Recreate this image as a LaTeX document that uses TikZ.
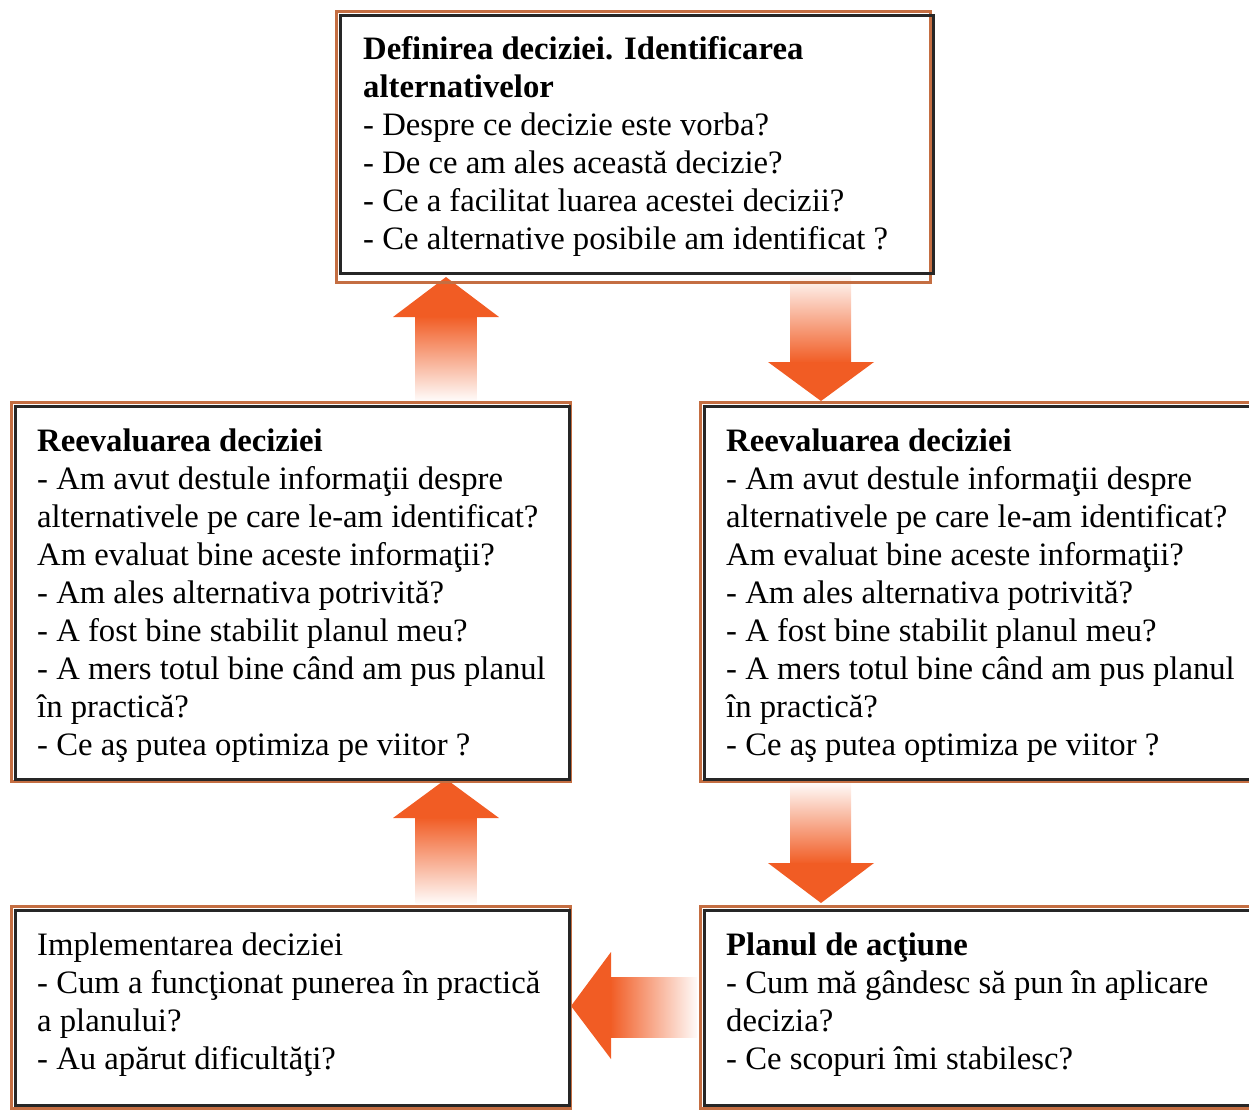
\documentclass[tikz,border=0pt]{standalone}
\usepackage{fontspec}
\setmainfont{Liberation Serif}
\definecolor{frameorange}{RGB}{196,110,66}
\definecolor{arroworange}{RGB}{241,92,36}
\tikzset{
  outerframe/.style={draw=frameorange, line width=3pt},
  innerframe/.style={draw=black!85, line width=3pt},
  boxtext/.style={anchor=base west, inner sep=0pt, font=\fontsize{32.7}{38}\selectfont},
  arrowhead/.style={fill=arroworange},
  vshaft/.style={top color=arroworange, bottom color=arroworange!3},
  vshaftdown/.style={top color=arroworange!3, bottom color=arroworange},
  hshaft/.style={left color=arroworange, right color=arroworange!3},
}
\newcommand\boxlines[1]{\parbox[t]{660pt}{\raggedright #1}}
\begin{document}
\begin{tikzpicture}[x=1pt,y=-1pt]
\useasboundingbox (0,0) rectangle (1249,1109);
\clip (0,0) rectangle (1249,1109);

% ---- block arrows between the stages ----
% up: middle-left box -> top box
\shade[vshaft] (415.5,316) rectangle (476.5,400);
\fill[arrowhead] (393,317) -- (446,277) -- (499,317) -- cycle;
% down: top box -> middle-right box
\shade[vshaftdown] (790,276) rectangle (851,363);
\fill[arrowhead] (768,362) -- (821,401) -- (874,362) -- cycle;
% up: bottom-left box -> middle-left box
\shade[vshaft] (415.5,817) rectangle (476.5,903);
\fill[arrowhead] (393,818) -- (446,779) -- (499,818) -- cycle;
% down: middle-right box -> bottom-right box
\shade[vshaftdown] (790,783) rectangle (851,864);
\fill[arrowhead] (768,863) -- (821,903) -- (874,863) -- cycle;
% left: bottom-right box -> bottom-left box
\shade[hshaft] (610,977) rectangle (697,1037);
\fill[arrowhead] (611,952) -- (571,1006) -- (611,1059) -- cycle;

% ---- framed boxes: orange outline with a black outline just inside ----
\draw[outerframe] (336,11) rectangle (930,282);
\node[innerframe, anchor=north west, minimum width=593pt, minimum height=258pt] (defbox) at (339,14) {};

\draw[outerframe] (11,402) rectangle (570,781);
\node[innerframe, anchor=north west, minimum width=554pt, minimum height=373pt] (reevalL) at (14,405) {};

\draw[outerframe] (700,402) rectangle (1262,781);
\node[innerframe, anchor=north west, minimum width=560pt, minimum height=373pt] (reevalR) at (703,405) {};

\draw[outerframe] (11,906) rectangle (570,1108);
\node[innerframe, anchor=north west, minimum width=554pt, minimum height=195pt] (implbox) at (14,909) {};

\draw[outerframe] (700,906) rectangle (1262,1108);
\node[innerframe, anchor=north west, minimum width=560pt, minimum height=195pt] (planbox) at (703,909) {};

% ---- box texts ----
\node[boxtext] (deftext) at (363,59) {\boxlines{%
\textbf{Definirea deciziei. Identificarea}\\
\textbf{alternativelor}\\
- Despre ce decizie este vorba?\\
- De ce am ales această decizie?\\
- Ce a facilitat luarea acestei decizii?\\
- Ce alternative posibile am identificat ?}};

\node[boxtext] (reevalLtext) at (37,451) {\boxlines{%
\textbf{Reevaluarea deciziei}\\
- Am avut destule informaţii despre\\
alternativele pe care le-am identificat?\\
Am evaluat bine aceste informaţii?\\
- Am ales alternativa potrivită?\\
- A fost bine stabilit planul meu?\\
- A mers totul bine când am pus planul\\
în practică?\\
- Ce aş putea optimiza pe viitor ?}};

\node[boxtext] (reevalRtext) at (726,451) {\boxlines{%
\textbf{Reevaluarea deciziei}\\
- Am avut destule informaţii despre\\
alternativele pe care le-am identificat?\\
Am evaluat bine aceste informaţii?\\
- Am ales alternativa potrivită?\\
- A fost bine stabilit planul meu?\\
- A mers totul bine când am pus planul\\
în practică?\\
- Ce aş putea optimiza pe viitor ?}};

\node[boxtext] (impltext) at (37,955) {\boxlines{%
Implementarea deciziei\\
- Cum a funcţionat punerea în practică\\
a planului?\\
- Au apărut dificultăţi?}};

\node[boxtext] (plantext) at (726,955) {\boxlines{%
\textbf{Planul de acţiune}\\
- Cum mă gândesc să pun în aplicare\\
decizia?\\
- Ce scopuri îmi stabilesc?}};
\end{tikzpicture}
\end{document}
